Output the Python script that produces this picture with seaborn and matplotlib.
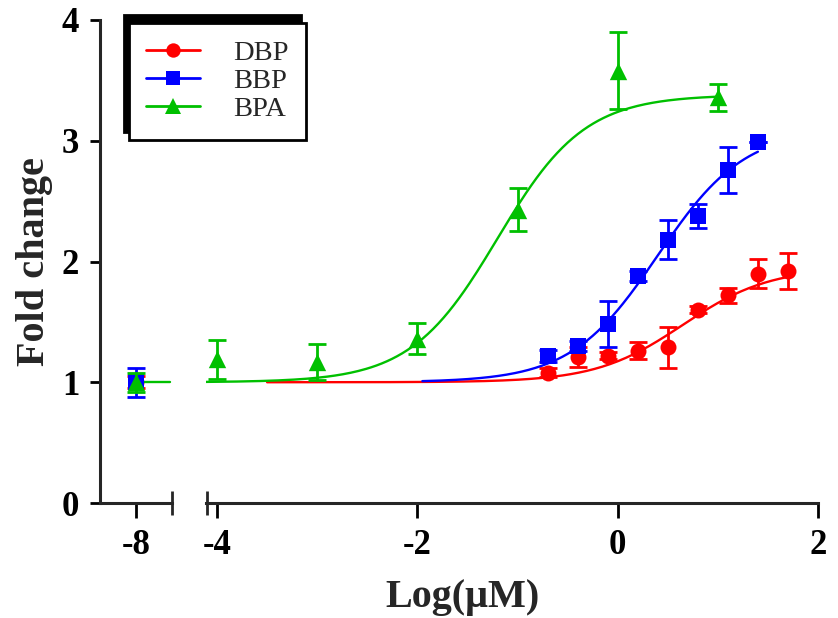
import numpy as np
import pandas as pd
import matplotlib
matplotlib.use('Agg')
import matplotlib.pyplot as plt
from matplotlib.lines import Line2D
import seaborn as sns

# measured points (log10 uM, fold change, SEM); -8 is the vehicle control
x_dbp = [-8, -0.7, -0.4, -0.1, 0.2, 0.5, 0.8, 1.1, 1.4, 1.7]
y_dbp = [1.0, 1.08, 1.21, 1.22, 1.26, 1.29, 1.60, 1.72, 1.90, 1.92]
e_dbp = [0.05, 0.04, 0.08, 0.03, 0.07, 0.17, 0.03, 0.06, 0.12, 0.15]

x_bbp = [-8, -0.7, -0.4, -0.1, 0.2, 0.5, 0.8, 1.1, 1.4]
y_bbp = [1.0, 1.22, 1.30, 1.48, 1.88, 2.18, 2.38, 2.76, 2.99]
e_bbp = [0.12, 0.05, 0.04, 0.19, 0.04, 0.16, 0.10, 0.19, 0.0]

x_bpa = [-8, -4, -3, -2, -1, 0, 1]
y_bpa = [1.0, 1.19, 1.17, 1.36, 2.43, 3.58, 3.36]
e_bpa = [0.08, 0.16, 0.15, 0.13, 0.18, 0.32, 0.11]

# sigmoid fit: bottom, top, logEC50, hill, x range
fit_dbp = [1.0, 1.95, 0.65, 1.0, -3.5, 1.7]
fit_bbp = [1.0, 3.10, 0.40, 1.0, -1.95, 1.4]
fit_bpa = [1.0, 3.38, -1.20, 1.0, -4.11, 1.02]

names = ['DBP', 'BBP', 'BPA']
colors = ['#ff0000', '#0000ff', '#00c000']
markers = ['o', 's', '^']
msizes = [11.5, 11, 12.5]


def hill(x, p):
    bottom, top, ec50, slope = p[:4]
    return bottom + (top - bottom) / (1 + 10 ** ((ec50 - x) * slope))


sns.set_style('ticks')
plt.rcParams['font.family'] = ['Liberation Serif', 'DejaVu Serif']
plt.rcParams['font.weight'] = 'bold'
plt.rcParams['axes.linewidth'] = 2.2

fig = plt.figure(figsize=(8.38, 6.18), dpi=100)
ax1 = fig.add_axes([100 / 838, 115 / 618, 72 / 838, 483 / 618])
ax2 = fig.add_axes([206 / 838, 115 / 618, 612 / 838, 483 / 618])

series = [(x_dbp, y_dbp, e_dbp, fit_dbp),
          (x_bbp, y_bbp, e_bbp, fit_bbp),
          (x_bpa, y_bpa, e_bpa, fit_bpa)]

for i, (xs, ys, es, fit) in enumerate(series):
    df = pd.DataFrame({'x': xs, 'y': ys, 'e': es})
    col = colors[i]
    # fitted curve
    xc = np.linspace(fit[4], fit[5], 200)
    curve = pd.DataFrame({'x': xc, 'y': hill(xc, fit)})
    sns.lineplot(data=curve, x='x', y='y', ax=ax2, color=col, lw=1.7,
                 zorder=2 + i)
    if i == 2:
        left = pd.DataFrame({'x': [-8.0, -7.66], 'y': [fit[0], fit[0]]})
        sns.lineplot(data=left, x='x', y='y', ax=ax1, color=col, lw=1.7,
                     zorder=2 + i)
    for ax in (ax1, ax2):
        ax.errorbar(df['x'], df['y'], yerr=df['e'], fmt='none', ecolor=col,
                    elinewidth=2, capsize=6.5, capthick=2, zorder=3 + i)
        sns.scatterplot(data=df, x='x', y='y', ax=ax, color=col,
                        marker=markers[i], s=msizes[i] ** 2, linewidth=0,
                        zorder=4 + i)

for ax in (ax1, ax2):
    ax.set_ylim(0, 4)
    ax.set_xlabel('')
    ax.set_ylabel('')
    ax.spines['top'].set_visible(False)
    ax.spines['right'].set_visible(False)
    ax.tick_params(axis='both', which='major', width=2, labelsize=25,
                   colors='black')
    ax.tick_params(axis='x', which='major', length=11, pad=8)
    ax.tick_params(axis='x', which='minor', direction='inout', length=17,
                   width=2)
    ax.set_facecolor('white')

ax1.set_xlim(-8.36, -7.635)
ax1.set_xticks([-8])
ax1.set_xticklabels(['-8'])
ax1.set_xticks([-7.64], minor=True)
ax1.set_yticks([0, 1, 2, 3, 4])
ax1.tick_params(axis='y', length=7, pad=8)
ax1.set_ylabel('Fold change', fontsize=29, fontweight='bold', labelpad=6)

ax2.set_xlim(-4.11, 2.0)
ax2.set_xticks([-4, -2, 0, 2])
ax2.set_xticklabels(['-4', '-2', '0', '2'])
ax2.set_xticks([-4.105], minor=True)
ax2.spines['left'].set_visible(False)
ax2.set_yticks([])

fig.text(462 / 838, 11 / 618, 'Log(μM)', ha='center', va='baseline',
         fontsize=29, fontweight='bold')

handles = [Line2D([0], [0], color=colors[i], lw=2, marker=markers[i],
                  markersize=msizes[i] * 0.9, markeredgewidth=0)
           for i in range(3)]
leg = fig.legend(handles, names, loc='upper left',
                 bbox_to_anchor=(129 / 838, 1 - 23 / 618), borderaxespad=0,
                 fancybox=False, frameon=True, edgecolor='black',
                 framealpha=1, handlelength=1.9,
                 handletextpad=1.15, labelspacing=0.08, borderpad=0.6,
                 prop={'weight': 'normal', 'size': 20.5},
                 shadow={'ox': -3.5, 'oy': 5.5, 'color': 'black', 'alpha': 1})
leg.get_frame().set_linewidth(2)

fig.savefig('out.png', dpi=100, facecolor='white')
